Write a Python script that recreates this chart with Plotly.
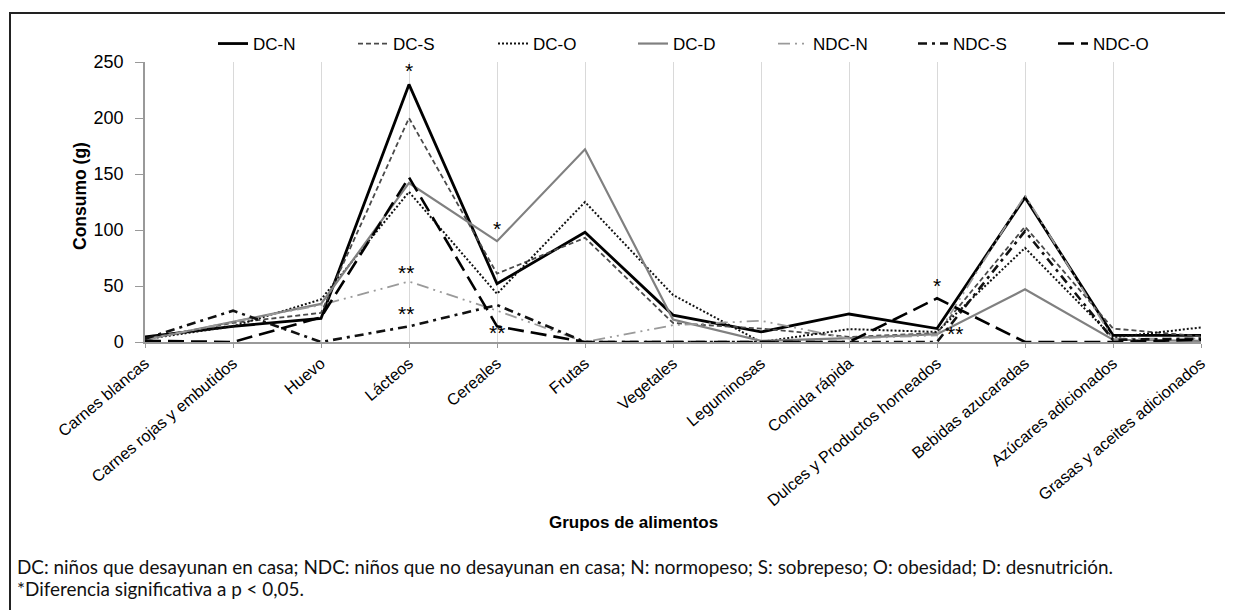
import plotly.graph_objects as go

categories = ["Carnes blancas", "Carnes rojas y embutidos", "Huevo", "Lácteos", "Cereales",
              "Frutas", "Vegetales", "Leguminosas", "Comida rápida",
              "Dulces y Productos horneados", "Bebidas azucaradas",
              "Azúcares adicionados", "Grasas y aceites adicionados"]

dc_n = [4.5, 14, 21, 230, 52, 98, 24, 9, 25, 12, 129, 6, 6]
dc_s = [3, 17, 26, 200, 61, 93, 17, 12, 4.5, 8, 103, 12, 5]
dc_o = [2.5, 14, 38, 134, 43, 125, 42, 0, 11.5, 9, 84, 4, 13]
dc_d = [2, 18, 34, 142, 90, 172, 20, 1, 3.5, 7, 47, 2, 1]
ndc_n = [2, 18, 33, 54, 28, 0, 15, 19, 3, 6, 131, 3, 3]
ndc_s = [3, 28, 0, 14, 33, 0, 0, 0, 0, 0, 99, 2, 3]
ndc_o = [1, 0, 22, 147, 14, 0, 0, 0, 0, 39, 0, 0, 2]

series_names = ["DC-N", "DC-S", "DC-O", "DC-D", "NDC-N", "NDC-S", "NDC-O"]

# significance marks: (x index, y value, text)
sig_x = [3, 2.97, 2.97, 4, 4.0, 9, 9.2]
sig_y = [230, 50, 13, 89, 0.3, 38, 0.2]
sig_shift = [0, 0, 0, 0, -4, 0, -5]
sig_text = ["*", "**", "**", "*", "**", "*", "**"]

styles = [
    dict(color="#000000", width=2.8, dash="solid"),
    dict(color="#4a4a4a", width=1.8, dash="5px,3px"),
    dict(color="#111111", width=2.0, dash="2px,2px"),
    dict(color="#808080", width=2.2, dash="solid"),
    dict(color="#9a9a9a", width=1.8, dash="12px,5px,2px,5px,2px,5px"),
    dict(color="#111111", width=2.6, dash="9px,5px,3px,5px"),
    dict(color="#000000", width=2.6, dash="16px,7px"),
]

data = [dc_n, dc_s, dc_o, dc_d, ndc_n, ndc_s, ndc_o]

fig = go.Figure()
for name, vals, st in zip(series_names, data, styles):
    fig.add_trace(go.Scatter(x=categories, y=vals, mode="lines", name=name,
                             line=dict(color=st["color"], width=st["width"], dash=st["dash"])))

# page body has an 8px margin: figure is offset by 8px
OFF = 8
W, H = 1233 - OFF, 610 - OFF
L, R, T, B = 145, 1201, 62, 342  # screen coords of plot area


def px_x(p):
    return (p - L) / (R - L)


def px_y(p):
    return (B - p) / (B - T)


FONT = "Liberation Sans, Arial"
annotations = []
for x, y, s, t in zip(sig_x, sig_y, sig_shift, sig_text):
    annotations.append(dict(x=x, y=y, xref="x", yref="y", text=t, showarrow=False,
                            yanchor="bottom", xanchor="center", yshift=s,
                            font=dict(size=21, color="#000000", family=FONT)))

annotations += [
    dict(x=px_x(80), y=px_y(196), xref="paper", yref="paper", text="<b>Consumo (g)</b>",
         textangle=-90, xanchor="center", yanchor="middle", showarrow=False,
         font=dict(size=17.5, color="#000", family=FONT)),
    dict(x=px_x(633), y=px_y(522), xref="paper", yref="paper", text="<b>Grupos de alimentos</b>",
         xanchor="center", yanchor="middle",
         showarrow=False, font=dict(size=17, color="#000", family=FONT)),
    dict(x=px_x(15), y=px_y(566), xref="paper", yref="paper", xanchor="left", yanchor="middle",
         text="DC: niños que desayunan en casa; NDC: niños que no desayunan en casa; N: normopeso; "
              "S: sobrepeso; O: obesidad; D: desnutrición.",
         showarrow=False, font=dict(size=18.9, color="#111", family="Lato")),
    dict(x=px_x(15), y=px_y(588), xref="paper", yref="paper", xanchor="left", yanchor="middle",
         text="*Diferencia significativa a p &lt; 0,05.",
         showarrow=False, font=dict(size=18.9, color="#111", family="Lato")),
]

fig.update_layout(
    width=W, height=H,
    margin=dict(l=L - OFF, r=W - (R - OFF), t=T - OFF, b=H - (B - OFF), autoexpand=False),
    paper_bgcolor="white", plot_bgcolor="white",
    font=dict(family=FONT, size=16, color="#000"),
    showlegend=True,
    legend=dict(orientation="h", x=px_x(213), y=px_y(44), xanchor="left", yanchor="middle",
                entrywidth=95, entrywidthmode="pixels", font=dict(size=17, color="#000"),
                bgcolor="rgba(0,0,0,0)", traceorder="normal"),
    annotations=annotations,
    shapes=[dict(type="rect", xref="paper", yref="paper",
                 x0=px_x(10), x1=px_x(1260), y0=px_y(640), y1=px_y(13),
                 line=dict(color="#222", width=2))],
)

fig.update_xaxes(type="category", range=[0, 12], showgrid=True, gridcolor="#d9d9d9", gridwidth=1,
                 showline=True, linecolor="#999", linewidth=1.5, ticks="outside", ticklen=4,
                 tickcolor="#999", tickangle=-40, tickfont=dict(size=16.2, color="#000"),
                 zeroline=False)
fig.update_yaxes(range=[0, 250], dtick=50, showgrid=False, showline=True, linecolor="#999",
                 linewidth=1.5, ticks="outside", ticklen=8, tickcolor="#999",
                 ticklabelstandoff=8,
                 tickfont=dict(size=18, color="#000"), zeroline=False)

fig.write_html("out.html")
